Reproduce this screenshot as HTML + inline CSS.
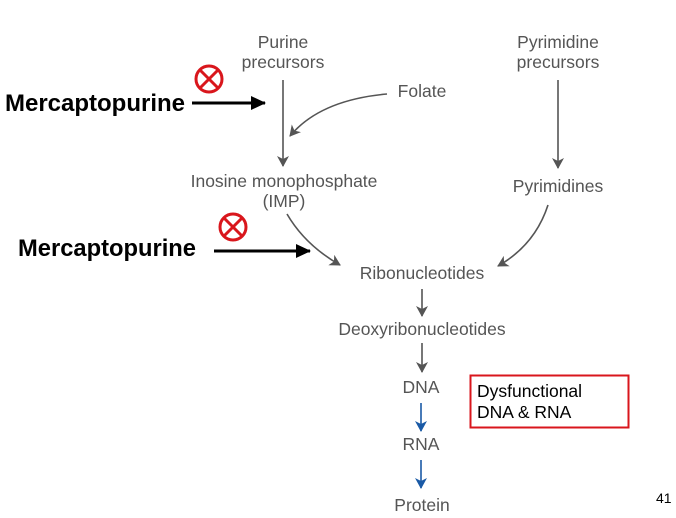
<!DOCTYPE html>
<html><head><style>
html,body{margin:0;padding:0;background:#fff;}
svg{display:block;}
text{font-family:"Liberation Sans",sans-serif;}
.g{fill:#555;font-size:17.5px;text-anchor:middle;}
</style></head><body>
<svg width="676" height="518" viewBox="0 0 676 518" xmlns="http://www.w3.org/2000/svg">
<defs>
<marker id="ag" markerWidth="12" markerHeight="12" refX="10" refY="6" orient="auto" markerUnits="userSpaceOnUse"><path d="M0,0 L11,6 L0,12 L3,6 Z" fill="#555"/></marker>
<marker id="ab" markerWidth="12" markerHeight="12" refX="10" refY="6" orient="auto" markerUnits="userSpaceOnUse"><path d="M0,0 L11,6 L0,12 L3,6 Z" fill="#1a5aa6"/></marker>
<marker id="ak" markerWidth="16" markerHeight="14" refX="14" refY="7" orient="auto" markerUnits="userSpaceOnUse"><path d="M0,0 L15,7 L0,14 Z" fill="#000"/></marker>
</defs>
<text class="g" x="283" y="48">Purine</text>
<text class="g" x="283" y="68">precursors</text>
<text class="g" x="558" y="48">Pyrimidine</text>
<text class="g" x="558" y="68">precursors</text>
<text class="g" x="422" y="97">Folate</text>
<text class="g" x="284" y="187">Inosine monophosphate</text>
<text class="g" x="284" y="207">(IMP)</text>
<text class="g" x="558" y="192">Pyrimidines</text>
<text class="g" x="422" y="279">Ribonucleotides</text>
<text class="g" x="422" y="335">Deoxyribonucleotides</text>
<text class="g" x="421" y="393">DNA</text>
<text class="g" x="421" y="450">RNA</text>
<text class="g" x="422" y="511">Protein</text>

<g stroke="#555" stroke-width="1.6" fill="none">
<line x1="283" y1="80" x2="283" y2="166" marker-end="url(#ag)"/>
<path d="M387,94 Q320,100 290,136" marker-end="url(#ag)"/>
<line x1="558" y1="80" x2="558" y2="168" marker-end="url(#ag)"/>
<path d="M287,214 Q305,245 340,265" marker-end="url(#ag)"/>
<path d="M548,205 Q535,245 498,266" marker-end="url(#ag)"/>
<line x1="422" y1="289" x2="422" y2="316" marker-end="url(#ag)"/>
<line x1="422" y1="343" x2="422" y2="372" marker-end="url(#ag)"/>
</g>
<g stroke="#1a5aa6" stroke-width="1.6">
<line x1="421" y1="403" x2="421" y2="431" marker-end="url(#ab)"/>
<line x1="421" y1="460" x2="421" y2="488" marker-end="url(#ab)"/>
</g>

<text x="5" y="111" textLength="180" lengthAdjust="spacingAndGlyphs" style="font-size:24px;font-weight:bold;fill:#000">Mercaptopurine</text>
<line x1="192" y1="103" x2="265" y2="103" stroke="#000" stroke-width="3" marker-end="url(#ak)"/>
<text x="18" y="256" textLength="178" lengthAdjust="spacingAndGlyphs" style="font-size:24px;font-weight:bold;fill:#000">Mercaptopurine</text>
<line x1="214" y1="251" x2="310" y2="251" stroke="#000" stroke-width="3" marker-end="url(#ak)"/>

<g stroke="#d9161c" stroke-width="3" fill="none">
<circle cx="209" cy="79" r="13"/>
<line x1="200" y1="70" x2="218" y2="88"/><line x1="218" y1="70" x2="200" y2="88"/>
<circle cx="233" cy="227" r="13"/>
<line x1="224" y1="218" x2="242" y2="236"/><line x1="242" y1="218" x2="224" y2="236"/>
</g>

<rect x="470.5" y="375.5" width="158" height="52" fill="none" stroke="#d9161c" stroke-width="2"/>
<text x="477" y="397" style="font-size:17.5px;fill:#000">Dysfunctional</text>
<text x="477" y="418" style="font-size:17.5px;fill:#000">DNA &amp; RNA</text>
<text x="656" y="503" style="font-size:14px;fill:#000">41</text>
</svg>
</body></html>
